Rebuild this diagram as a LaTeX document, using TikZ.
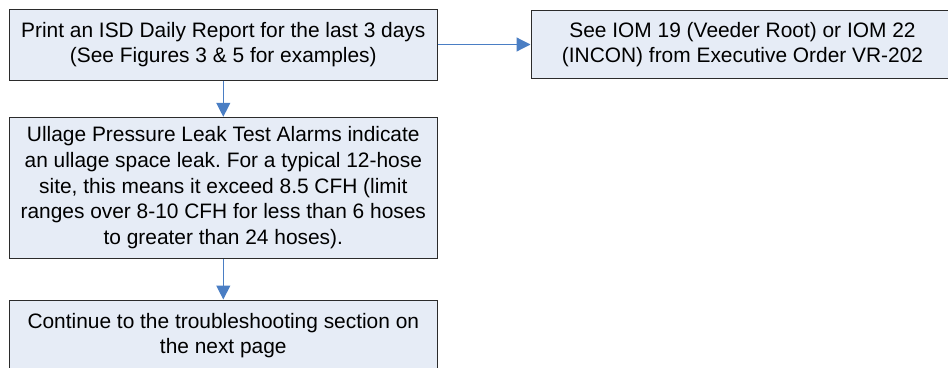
\documentclass[tikz,border=0pt]{standalone}
\usepackage{fontspec}
\setmainfont{Liberation Sans}
\usetikzlibrary{arrows.meta}
\definecolor{boxfill}{HTML}{E6ECF6}
\definecolor{boxline}{HTML}{2B2B2B}
\definecolor{flow}{HTML}{4A7EC4}
\begin{document}
\begin{tikzpicture}[x=1pt,y=-1pt,
  stepbox/.style={draw=boxline, line width=1pt, fill=boxfill, inner sep=0pt,
    align=center, font=\fontsize{20.9}{25.7}\selectfont\frenchspacing},
  flowarrow/.style={draw=flow, line width=1.2pt,
    -{Triangle[width=14pt,length=14pt]}}]
\useasboundingbox (0,0) rectangle (948,367);
\clip (0,0) rectangle (948,367);
% main column of the flowchart
\node[stepbox, minimum width=428pt, minimum height=71pt] (print) at (223.3,44.5)
  {Print an ISD Daily Report for the last 3 days\\(See Figures 3 \& 5 for examples)};
\node[stepbox, minimum width=428pt, minimum height=141pt] (ullage) at (223.3,187.8)
  {Ullage Pressure Leak Test Alarms indicate\\an ullage space leak. For a typical 12-hose\\site, this means it exceed 8.5 CFH (limit\\ranges over 8-10 CFH for less than 6 hoses\\to greater than 24 hoses).};
\node[stepbox, minimum width=428pt, minimum height=71pt] (cont) at (223.3,335.5)
  {Continue to the troubleshooting section on\\the next page};
% side branch
\node[stepbox, minimum width=423pt, minimum height=68pt] (iom) at (742.5,44.7)
  {See IOM 19 (Veeder Root) or IOM 22\\(INCON) from Executive Order VR-202};
% connectors
\draw[flowarrow] (print.east) -- (print.east -| iom.west);
\draw[flowarrow] (print.south) -- (ullage.north);
\draw[flowarrow] (ullage.south) -- (cont.north);
\end{tikzpicture}
\end{document}
